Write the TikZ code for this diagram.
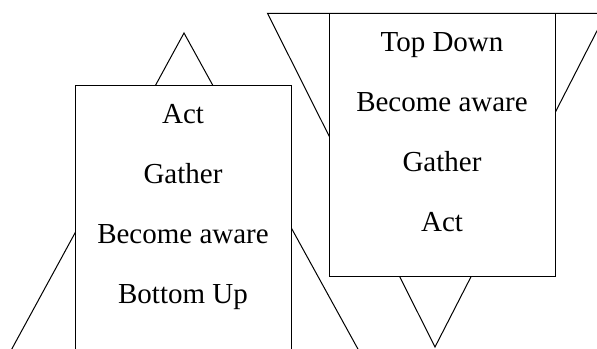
\documentclass[tikz,border=0pt]{standalone}
\usepackage{fontspec}
\setmainfont{Liberation Serif}
\usetikzlibrary{positioning}

\begin{document}
\begin{tikzpicture}[x=1bp,y=-1bp,line width=1bp,
    box/.style={draw, fill=white, anchor=north west, inner sep=0pt},
    step label/.style={anchor=base, inner sep=0pt, font=\fontsize{29bp}{35bp}\selectfont}]
    \useasboundingbox (0,0) rectangle (597,348);
    \clip (0,0) rectangle (597,348);
    % bottom up: triangle pointing up
    \coordinate (BUtop) at (184,33);
    \draw (-16,400) -- (BUtop) -- (386,400);
    \node [box, minimum width=216bp, minimum height=300bp] (BUbox) at (75,85) {};
    \node [step label] (BUact) at (183,123) {Act};
    \node [step label] (BUgather) at (183,183) {Gather};
    \node [step label] (BUaware) at (183,243) {Become aware};
    \node [step label] (BUname) at (183,303) {Bottom Up};
    % top down: triangle pointing down
    \coordinate (TDtip) at (435,347);
    \draw (TDtip) -- (267.5,13.3) -- (606,13.3) -- cycle;
    \node [box, minimum width=226bp, minimum height=263bp] (TDbox) at (329,13.3) {};
    \node [step label] (TDname) at (442,51) {Top Down};
    \node [step label] (TDaware) at (442,111) {Become aware};
    \node [step label] (TDgather) at (442,171) {Gather};
    \node [step label] (TDact) at (442,231) {Act};
  \end{tikzpicture}
\end{document}
